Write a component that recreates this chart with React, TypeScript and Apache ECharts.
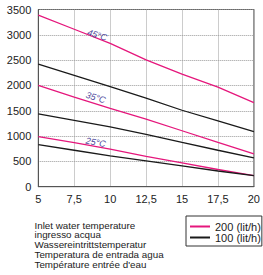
import React, { useEffect, useRef } from "react";
import * as echarts from "echarts";

const xValues = [5, 7.5, 10, 12.5, 15, 17.5, 20];
const pink45 = [3390, 3110, 2830, 2505, 2225, 1965, 1660];
const black45 = [2420, 2200, 1975, 1750, 1510, 1300, 1090];
const pink35 = [2000, 1770, 1545, 1335, 1105, 875, 650];
const black35 = [1440, 1310, 1180, 1035, 875, 720, 570];
const pink25 = [990, 870, 740, 600, 470, 340, 220];
const black25 = [830, 720, 610, 510, 410, 310, 220];
const tempLabels = ["45°C", "35°C", "25°C"];
const labelCoords = [
  [9.1, 2995],
  [9.0, 1762],
  [9.0, 875],
];
const legendNames = ["200 (lit/h)", "100 (lit/h)"];
const captionLines = [
  "Inlet water temperature",
  "ingresso acqua",
  "Wassereintrittstemperatur",
  "Temperatura de entrada agua",
  "Température entrée d'eau",
];

const FONT = '"Liberation Sans", Arial, sans-serif';
const PINK = "#e5177c";
const BLACK = "#1a1a1a";
const LABEL = "#4f4a9c";

function pairs(vals: number[]) {
  return xValues.map((x, i) => [x, vals[i]]);
}

export default function App() {
  const ref = useRef<HTMLDivElement>(null);
  useEffect(() => {
    document.body.style.margin = "0";
    if (!ref.current) return;
    const chart = echarts.init(ref.current, null, { renderer: "svg" });
    const mk = (i: number, rot: number) => ({
      symbol: "circle",
      symbolSize: 1,
      itemStyle: { color: "rgba(0,0,0,0)" },
      label: {
        show: true,
        position: "inside",
        formatter: tempLabels[i],
        rotate: rot,
        color: LABEL,
        fontStyle: "italic",
        fontSize: 9,
        fontFamily: FONT,
      },
      data: [{ coord: labelCoords[i] }],
    });
    const line = (name: string, color: string, vals: number[], markPoint?: any) => ({
      type: "line",
      name,
      data: pairs(vals),
      symbol: "none",
      lineStyle: { color, width: 1.3 },
      itemStyle: { color },
      silent: true,
      ...(markPoint ? { markPoint } : {}),
    });
    chart.setOption({
      animation: false,
      grid: {
        left: 38.3,
        right: 4.7,
        top: 9.5,
        bottom: 88.3,
        show: true,
        borderColor: "#555",
        borderWidth: 1,
      },
      xAxis: {
        type: "value",
        min: 5,
        max: 20,
        interval: 2.5,
        axisLine: { show: true, lineStyle: { color: "#555" } },
        axisTick: { show: false },
        splitLine: { show: true, lineStyle: { color: "#999", type: "dotted" } },
        axisLabel: {
          color: "#222",
          fontSize: 11,
          fontFamily: FONT,
          margin: 7,
          formatter: (v: number) => String(v).replace(".", ","),
        },
      },
      yAxis: {
        type: "value",
        min: 0,
        max: 3500,
        interval: 500,
        axisLine: { show: true, lineStyle: { color: "#555" } },
        axisTick: { show: false },
        splitLine: { show: true, lineStyle: { color: "#999", type: "dotted" } },
        axisLabel: {
          color: "#222",
          fontSize: 11,
          fontFamily: FONT,
          margin: 7,
          formatter: (v: number) => String(v),
        },
      },
      legend: {
        data: legendNames,
        orient: "vertical",
        left: 186,
        top: 216,
        itemWidth: 20,
        itemHeight: 2,
        itemGap: 0,
        itemTextGap: 1,
        icon: "rect",
        padding: [5, 1, 3, 4],
        borderColor: "#333",
        borderWidth: 1,
        selectedMode: false,
        textStyle: { color: "#222", fontSize: 11, fontFamily: FONT, lineHeight: 9.5 },
      },
      graphic: [
        {
          type: "text",
          left: 34.5,
          top: 220,
          style: {
            text: captionLines.join("\n"),
            fill: "#222",
            font: `9.8px ${FONT}`,
            lineHeight: 9.8,
          },
        },
      ],
      series: [
        line(legendNames[0], PINK, pink45, mk(0, -17)),
        line(legendNames[1], BLACK, black45),
        line(legendNames[0], PINK, pink35, mk(1, -17)),
        line(legendNames[1], BLACK, black35),
        line(legendNames[0], PINK, pink25, mk(2, -10)),
        line(legendNames[1], BLACK, black25),
      ],
    });
    return () => chart.dispose();
  }, []);
  return <div ref={ref} style={{ width: 263, height: 275 }} />;
}
